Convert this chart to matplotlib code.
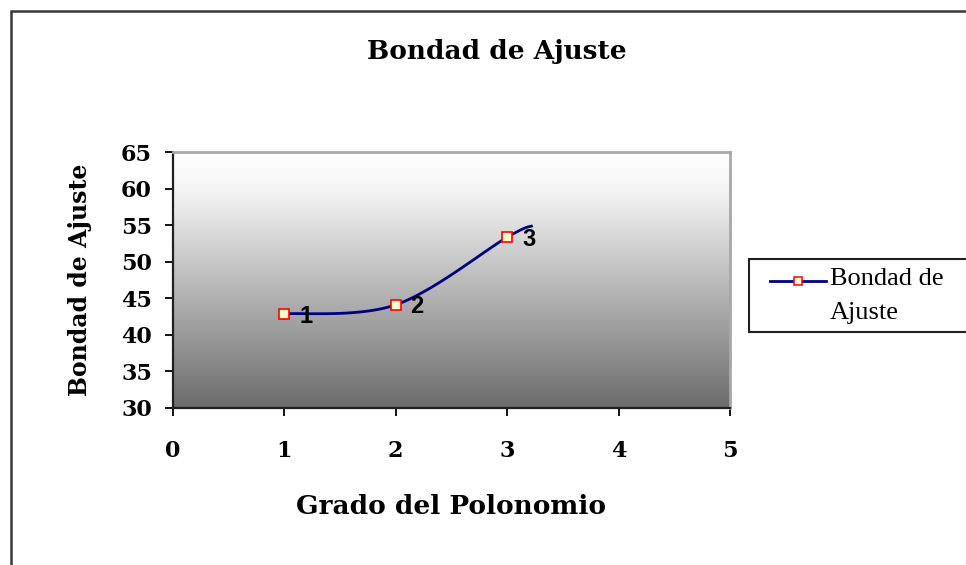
import numpy as np
import matplotlib
matplotlib.use("Agg")
import matplotlib.pyplot as plt
from matplotlib.lines import Line2D
from matplotlib.patches import Rectangle
from matplotlib.colors import LinearSegmentedColormap

# ---- data ----
grado = [1, 2, 3]
bondad = [42.85, 44.1, 53.35]
tail_x = [3.23]
tail_y = [54.95]
point_labels = ["1", "2", "3"]
x_ticks = [0, 1, 2, 3, 4, 5]
y_ticks = [30, 35, 40, 45, 50, 55, 60, 65]
title = "Bondad de Ajuste"
x_label = "Grado del Polonomio"
y_label = "Bondad de Ajuste"
legend_lines = ["Bondad de", "Ajuste"]

W, H = 966, 565


def smooth(xs, ys, n=40):
    """Excel-style smoothed line (cubic Bezier through the points)."""
    P = np.column_stack([xs, ys]).astype(float)
    out = []
    for i in range(len(P) - 1):
        p0 = P[max(i - 1, 0)]
        p1 = P[i]
        p2 = P[i + 1]
        p3 = P[min(i + 2, len(P) - 1)]
        c1 = p1 + (p2 - p0) / 6.0
        c2 = p2 - (p3 - p1) / 6.0
        t = np.linspace(0, 1, n)[:, None]
        seg = (1 - t) ** 3 * p1 + 3 * (1 - t) ** 2 * t * c1 + 3 * (1 - t) * t ** 2 * c2 + t ** 3 * p2
        out.append(seg if i == 0 else seg[1:])
    out = np.vstack(out)
    return out[:, 0], out[:, 1]


fig = plt.figure(figsize=(W / 100, H / 100), dpi=100)
fig.patch.set_facecolor("white")

# outer chart border (left and top visible)
fig.patches.append(Rectangle((10.5 / W, -0.2), 1.5, 1.2 - 10.5 / H, transform=fig.transFigure,
                             fill=False, edgecolor="#383838", linewidth=1.8, zorder=0))

left, right, top, bottom = 172.8, 730.0, 152.3, 407.7
ax = fig.add_axes([left / W, 1 - bottom / H, (right - left) / W, (bottom - top) / H])

# gradient background
cmap = LinearSegmentedColormap.from_list("g", [(0.0, "#6c6c6c"), (0.45, "#b4b4b4"),
                                               (0.85, "#f4f4f4"), (1.0, "#ffffff")])
grad = np.linspace(0, 1, 256)[:, None]
ax.imshow(grad, extent=[0, 5, 30, 65], origin="lower", aspect="auto", cmap=cmap, zorder=0)

ax.set_xlim(0, 5)
ax.set_ylim(30, 65)

sx, sy = smooth(grado + tail_x, bondad + tail_y)
line_color = "#000080"
ax.plot(sx, sy, color=line_color, linewidth=2.0, zorder=3, solid_capstyle="butt")
mk = dict(marker="s", markersize=7, markerfacecolor="#ffffc8", markeredgecolor="#ff0000",
          markeredgewidth=1.2)
ax.plot(grado, bondad, linestyle="none", zorder=4, **mk)

for xv, yv, lab in zip(grado, bondad, point_labels):
    ax.annotate(lab, (xv, yv), xytext=(15.5, -1.5), textcoords="offset points",
                ha="center", va="center", fontsize=17, fontweight="bold",
                family="Liberation Sans", color="black", zorder=5)

ax.set_xticks(x_ticks)
ax.set_yticks(y_ticks)
tick_font = dict(family="DejaVu Serif", weight="bold", size=16)
ax.set_xticklabels([str(v) for v in x_ticks], fontdict=tick_font)
ax.set_yticklabels([str(v) for v in y_ticks], fontdict=tick_font)
ax.tick_params(axis="x", direction="out", length=6, width=1.3, pad=17, colors="black")
ax.tick_params(axis="y", direction="out", length=6, width=1.3, pad=9, colors="black")

for s in ("left", "bottom"):
    ax.spines[s].set_color("#202020")
    ax.spines[s].set_linewidth(1.6)
for s in ("top", "right"):
    ax.spines[s].set_color("#a8a8a8")
    ax.spines[s].set_linewidth(2.0)

fig.text(497 / W, 1 - 52 / H, title, ha="center", va="center",
         family="DejaVu Serif", weight="bold", size=19)
fig.text(451 / W, 1 - 507 / H, x_label, ha="center", va="center",
         family="DejaVu Serif", weight="bold", size=19)
fig.text(80 / W, 1 - 280 / H, y_label, ha="center", va="center", rotation=90,
         family="DejaVu Serif", weight="bold", size=17)

# legend (frame runs off the right edge, as in the reference)
fig.patches.append(Rectangle((749 / W, 1 - 332 / H), 0.5, 73 / H, transform=fig.transFigure,
                             facecolor="white", edgecolor="#202020", linewidth=1.5, zorder=2))
fig.lines.append(Line2D([770 / W, 826 / W], [1 - 281 / H, 1 - 281 / H], transform=fig.transFigure,
                        color=line_color, linewidth=2.0, zorder=3))
fig.lines.append(Line2D([798 / W], [1 - 281 / H], transform=fig.transFigure, linestyle="none",
                        zorder=4, marker="s", markersize=6, markerfacecolor="#ffffc8",
                        markeredgecolor="#ff0000", markeredgewidth=1.1))
fig.text(830 / W, 1 - 279 / H, legend_lines[0], ha="left", va="center",
         family="Liberation Serif", size=19, zorder=5)
fig.text(830 / W, 1 - 313 / H, legend_lines[1], ha="left", va="center",
         family="Liberation Serif", size=19, zorder=5)

fig.savefig("out.png", dpi=100)
